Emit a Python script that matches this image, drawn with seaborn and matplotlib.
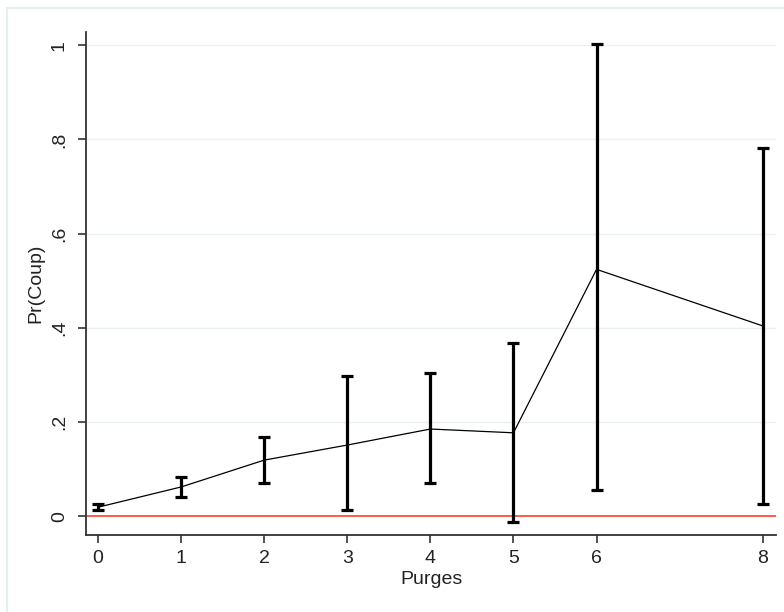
import matplotlib
matplotlib.use("Agg")
import matplotlib.pyplot as plt
import seaborn as sns
import pandas as pd
import numpy as np
from matplotlib.patches import Rectangle

# Data
purges = [0, 1, 2, 3, 4, 5, 6, 8]
pr_coup = [0.019, 0.062, 0.119, 0.151, 0.185, 0.177, 0.524, 0.404]
ci_low = [0.014, 0.040, 0.070, 0.013, 0.070, -0.013, 0.055, 0.025]
ci_high = [0.025, 0.083, 0.168, 0.297, 0.305, 0.367, 1.002, 0.781]
y_ticks = [0, 0.2, 0.4, 0.6, 0.8, 1.0]
y_tick_labels = ["0", ".2", ".4", ".6", ".8", "1"]

df = pd.DataFrame({"Purges": purges, "Pr(Coup)": pr_coup,
                   "lo": ci_low, "hi": ci_high})

sns.set_style("white")
plt.rcParams["font.family"] = ["Liberation Sans", "DejaVu Sans"]

fig = plt.figure(figsize=(7.84, 6.12), dpi=100)
W, H = 784, 612
fig.patches.append(Rectangle((7 / W, -0.05), 1.2, 1 - 8 / H + 0.05,
                             transform=fig.transFigure, fill=False,
                             edgecolor="#e6eef0", linewidth=1.5, zorder=0))

ax = fig.add_axes([86 / W, 1 - 535 / H, (776 - 86) / W, (535 - 32) / H])

for t in y_ticks[1:]:
    ax.axhline(t, color="#eaf1f1", linewidth=1.0, zorder=0)

ax.axhline(0, color="#ff4028", linewidth=1.2, zorder=1)

sns.lineplot(data=df, x="Purges", y="Pr(Coup)", ax=ax, color="black",
             linewidth=0.9, zorder=2)
ax.errorbar(df["Purges"], df["Pr(Coup)"],
            yerr=[df["Pr(Coup)"] - df["lo"], df["hi"] - df["Pr(Coup)"]],
            fmt="none", ecolor="black", elinewidth=2.3, capsize=4.5,
            capthick=2.3, zorder=3)

ax.set_xlim(-0.145, 8.16)
ax.set_ylim(-0.040, 1.028)
ax.set_xticks(purges)
ax.set_xticklabels([str(p) for p in purges], fontsize=14, color="#222222")
ax.set_yticks(y_ticks)
ax.set_yticklabels(y_tick_labels, fontsize=14, rotation=90, va="center",
                   color="#222222")

for s in ["top", "right"]:
    ax.spines[s].set_visible(False)
for s in ["left", "bottom"]:
    ax.spines[s].set_color("#333333")
    ax.spines[s].set_linewidth(1.3)

ax.tick_params(axis="both", direction="out", length=6, width=1.2,
               color="#333333", left=True, bottom=True)
ax.tick_params(axis="y", pad=7)
ax.tick_params(axis="x", pad=5)

ax.set_xlabel("Purges", fontsize=14, color="#222222", labelpad=3)
ax.set_ylabel("Pr(Coup)", fontsize=14, color="#222222", labelpad=5)

fig.savefig("out.png", dpi=100, facecolor="white")
